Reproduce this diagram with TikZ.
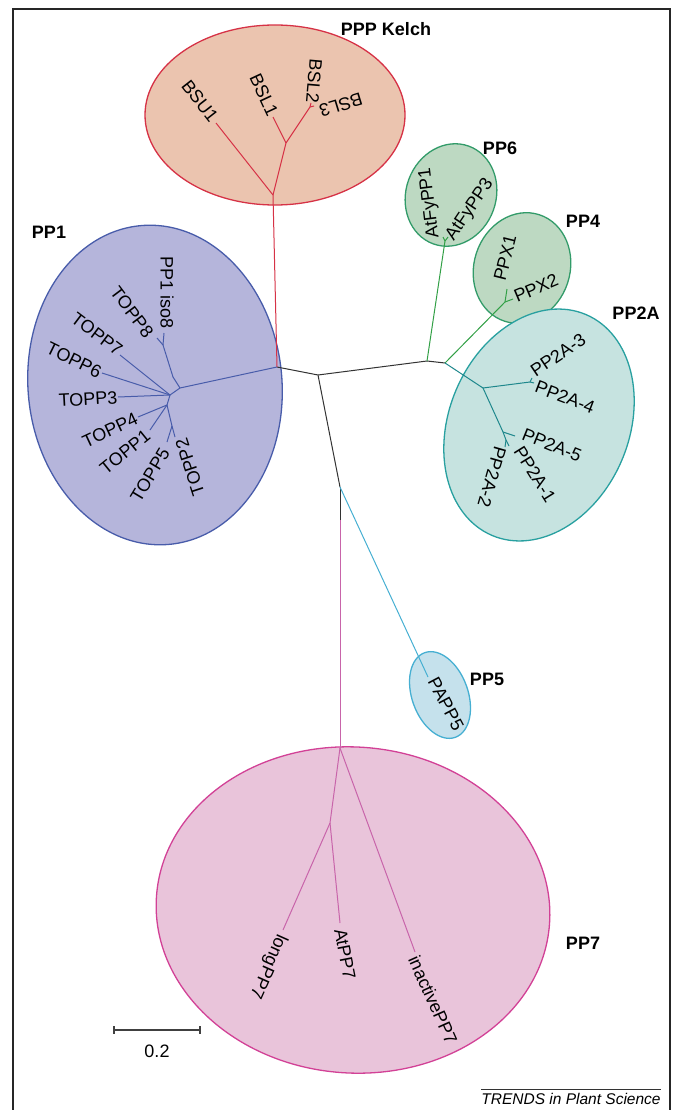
\documentclass[tikz,border=0pt]{standalone}
\usepackage{fontspec}
\setmainfont{Liberation Sans}
\definecolor{kelchfill}{RGB}{235,196,175}
\definecolor{kelchline}{RGB}{214,50,70}
\definecolor{ppifill}{RGB}{181,181,219}
\definecolor{ppiline}{RGB}{72,92,170}
\definecolor{greenfill}{RGB}{189,217,194}
\definecolor{greenline}{RGB}{50,155,105}
\definecolor{greenbranch}{RGB}{50,160,70}
\definecolor{tealfill}{RGB}{198,227,224}
\definecolor{tealline}{RGB}{40,160,160}
\definecolor{tealbranch}{RGB}{30,135,140}
\definecolor{cyanfill}{RGB}{197,225,236}
\definecolor{cyanline}{RGB}{70,175,210}
\definecolor{pinkfill}{RGB}{233,196,218}
\definecolor{pinkline}{RGB}{210,65,150}
\definecolor{pinkbranch}{RGB}{200,100,170}
\begin{document}
\begin{tikzpicture}[x=1pt,y=-1pt,
	tip/.style={font=\fontsize{18}{20}\selectfont,inner sep=0pt},
	clade/.style={font=\fontsize{18}{20}\selectfont\bfseries,inner sep=0pt},
	stem/.style={line width=1pt,black!80},
	kelchbr/.style={line width=1pt,kelchline},
	ppibr/.style={line width=1pt,ppiline},
	greenbr/.style={line width=1pt,greenbranch},
	tealbr/.style={line width=1pt,tealbranch},
	cyanbr/.style={line width=1pt,cyanline},
	pinkbr/.style={line width=1pt,pinkbranch},
	cladebox/.style={line width=1.3pt}]
	\useasboundingbox (0,0) rectangle (681,1110);
	\draw[line width=1.6pt,black!85] (13,1110)--(13,9)--(670,9)--(670,1110);
	\draw[cladebox,draw=kelchline,fill=kelchfill] (275,115) ellipse [x radius=130pt,y radius=90pt];
	\draw[cladebox,draw=ppiline,fill=ppifill,rotate around={5:(155,385)}] (155,385) ellipse [x radius=127pt,y radius=160pt];
	\draw[cladebox,draw=greenline,fill=greenfill,rotate around={-20:(451,195)}] (451,195) ellipse [x radius=45pt,y radius=52pt];
	\draw[cladebox,draw=greenline,fill=greenfill,rotate around={-18:(522,268)}] (522,268) ellipse [x radius=48pt,y radius=56pt];
	\draw[cladebox,draw=tealline,fill=tealfill,rotate around={-23:(539,425)}] (539,425) ellipse [x radius=90pt,y radius=120pt];
	\draw[cladebox,draw=cyanline,fill=cyanfill,rotate around={20:(440,695)}] (440,695) ellipse [x radius=28pt,y radius=45pt];
	\draw[cladebox,draw=pinkline,fill=pinkfill,rotate around={-4:(353,910)}] (353,910) ellipse [x radius=197pt,y radius=163pt];

	\coordinate (r0) at (277,367);
	\coordinate (r1) at (318,375);
	\coordinate (r2) at (427,361);
	\coordinate (r3) at (445,363);
	\coordinate (r4) at (340,487);
	\coordinate (r5) at (340,520);
	\draw[stem] (r0)--(r1);
	\draw[stem] (r1)--(r2);
	\draw[stem] (r2)--(r3);
	\draw[stem] (r1)--(r4);
	\draw[stem] (r4)--(r5);

	\coordinate (k0) at (273,195);
	\coordinate (k1) at (286,143);
	\coordinate (k2) at (310,107);
	\coordinate (bsu1) at (216,123);
	\coordinate (bsl1) at (273,117);
	\coordinate (bsl2) at (311,103);
	\coordinate (bsl3) at (314,106);
	\draw[kelchbr] (r0)--(k0);
	\draw[kelchbr] (k0)--(bsu1);
	\draw[kelchbr] (k0)--(k1);
	\draw[kelchbr] (k1)--(bsl1);
	\draw[kelchbr] (k1)--(k2);
	\draw[kelchbr] (k2)--(bsl2);
	\draw[kelchbr] (k2)--(bsl3);

	\coordinate (b0) at (180,388);
	\coordinate (b1) at (173,377);
	\coordinate (b2) at (163,345);
	\coordinate (b3) at (170,395);
	\coordinate (b5) at (167,405);
	\coordinate (b6) at (172,426);
	\coordinate (iso8) at (164,333);
	\coordinate (topp8) at (157,338);
	\coordinate (topp7) at (120,355);
	\coordinate (topp6) at (102,373);
	\coordinate (topp3) at (118,397);
	\coordinate (topp4) at (138,417);
	\coordinate (topp1) at (150,430);
	\coordinate (topp5) at (167,442);
	\coordinate (topp2) at (175,437);
	\draw[ppibr] (r0)--(b0);
	\draw[ppibr] (b0)--(b1);
	\draw[ppibr] (b1)--(b2);
	\draw[ppibr] (b2)--(iso8);
	\draw[ppibr] (b2)--(topp8);
	\draw[ppibr] (b0)--(b3);
	\draw[ppibr] (b3)--(topp7);
	\draw[ppibr] (b3)--(topp6);
	\draw[ppibr] (b3)--(topp3);
	\draw[ppibr] (b3)--(b5);
	\draw[ppibr] (b5)--(topp4);
	\draw[ppibr] (b5)--(topp1);
	\draw[ppibr] (b5)--(b6);
	\draw[ppibr] (b6)--(topp5);
	\draw[ppibr] (b6)--(topp2);

	\coordinate (g0) at (445,241);
	\coordinate (fy1) at (443,237);
	\coordinate (fy3) at (448,237);
	\coordinate (g1) at (505,302);
	\coordinate (ppx1) at (507,289);
	\coordinate (ppx2) at (513,299);
	\draw[greenbr] (r2)--(g0);
	\draw[greenbr] (g0)--(fy1);
	\draw[greenbr] (g0)--(fy3);
	\draw[greenbr] (r3)--(g1);
	\draw[greenbr] (g1)--(ppx1);
	\draw[greenbr] (g1)--(ppx2);

	\coordinate (t0) at (483,388);
	\coordinate (t1) at (530,382);
	\coordinate (t2) at (503,432);
	\coordinate (t3) at (506,440);
	\coordinate (a3) at (532,378);
	\coordinate (a4) at (534,383);
	\coordinate (a5) at (515,436);
	\coordinate (a1) at (509,446);
	\coordinate (a2) at (505,447);
	\draw[tealbr] (r3)--(t0);
	\draw[tealbr] (t0)--(t1);
	\draw[tealbr] (t1)--(a3);
	\draw[tealbr] (t1)--(a4);
	\draw[tealbr] (t0)--(t2);
	\draw[tealbr] (t2)--(a5);
	\draw[tealbr] (t2)--(t3);
	\draw[tealbr] (t3)--(a1);
	\draw[tealbr] (t3)--(a2);

	\coordinate (papp5) at (428,677);
	\draw[cyanbr] (r4)--(papp5);

	\coordinate (m0) at (340,748);
	\coordinate (m1) at (330,823);
	\coordinate (longpp7) at (283,930);
	\coordinate (atpp7) at (340,923);
	\coordinate (inactpp7) at (415,952);
	\draw[pinkbr] (r5)--(m0);
	\draw[pinkbr] (m0)--(m1);
	\draw[pinkbr] (m1)--(longpp7);
	\draw[pinkbr] (m1)--(atpp7);
	\draw[pinkbr] (m0)--(inactpp7);

	\node[tip,rotate=-52] (lbsu1) at (200,101) {BSU1};
	\node[tip,rotate=-65] (lbsl1) at (264,95) {BSL1};
	\node[tip,rotate=-95] (lbsl2) at (314,81) {BSL2};
	\node[tip,rotate=-163] (lbsl3) at (341,105) {BSL3};
	\node[tip,rotate=-90] (liso8) at (167,293) {PP1 iso8};
	\node[tip,rotate=-53] (ltopp8) at (132,312) {TOPP8};
	\node[tip,rotate=-37] (ltopp7) at (97,334) {TOPP7};
	\node[tip,rotate=-26] (ltopp6) at (74,360) {TOPP6};
	\node[tip,rotate=3] (ltopp3) at (88,399) {TOPP3};
	\node[tip,rotate=25] (ltopp4) at (110,430) {TOPP4};
	\node[tip,rotate=39] (ltopp1) at (125,452) {TOPP1};
	\node[tip,rotate=59] (ltopp5) at (150,475) {TOPP5};
	\node[tip,rotate=108] (ltopp2) at (190,467) {TOPP2};
	\node[tip,rotate=97] (lfy1) at (430,203) {AtFyPP1};
	\node[tip,rotate=56] (lfy3) at (470,210) {AtFyPP3};
	\node[tip,rotate=76] (lppx1) at (505,258) {PPX1};
	\node[tip,rotate=23] (lppx2) at (536,288) {PPX2};
	\node[tip,rotate=34] (la3) at (558,355) {PP2A-3};
	\node[tip,rotate=-21] (la4) at (565,397) {PP2A-4};
	\node[tip,rotate=-22] (la5) at (552,445) {PP2A-5};
	\node[tip,rotate=-58] (la1) at (535,474) {PP2A-1};
	\node[tip,rotate=-106] (la2) at (492,477) {PP2A-2};
	\node[tip,rotate=-62] (lpapp5) at (446,704) {PAPP5};
	\node[tip,rotate=-114] (llongpp7) at (268,966) {longPP7};
	\node[tip,rotate=-79] (latpp7) at (345,954) {AtPP7};
	\node[tip,rotate=-66] (linactpp7) at (433,1000) {inactivePP7};

	\node[clade] (kelch) at (386,29) {PPP Kelch};
	\node[clade] (pp1) at (49,232) {PP1};
	\node[clade] (pp6) at (500,148) {PP6};
	\node[clade] (pp4) at (583,221) {PP4};
	\node[clade] (pp2a) at (636,313) {PP2A};
	\node[clade] (pp5) at (487,679) {PP5};
	\node[clade] (pp7) at (583,943) {PP7};

	\coordinate (s0) at (114,1030);
	\coordinate (s1) at (200,1030);
	\draw[line width=1.1pt,black!75] (s0)--(s1);
	\draw[line width=1.1pt,black!75] ([yshift=4pt]s0)--([yshift=-4pt]s0);
	\draw[line width=1.1pt,black!75] ([yshift=4pt]s1)--([yshift=-4pt]s1);
	\node[tip] (scale) at (157,1051) {0.2};
	\node[font=\fontsize{15.5}{17}\selectfont\itshape,inner sep=0pt] (trends) at (571,1099) {TRENDS in Plant Science};
	\draw[line width=0.8pt,black!80] ([yshift=4pt]trends.north west)--([yshift=4pt]trends.north east);
\end{tikzpicture}
\end{document}
